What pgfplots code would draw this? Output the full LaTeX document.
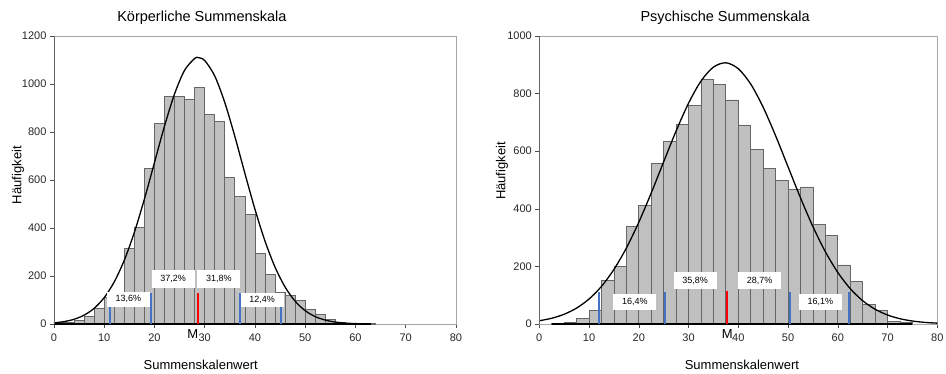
\documentclass[border=0pt]{standalone}
\usepackage{pgfplots}
\pgfplotsset{compat=1.18}
\usepackage{fontspec}
\setmainfont{Liberation Sans}
\definecolor{barfill}{HTML}{C0C0C0}
\definecolor{baredge}{HTML}{666666}
\definecolor{myblue}{HTML}{4472C4}
\definecolor{myred}{HTML}{FF0000}
\definecolor{framec}{HTML}{A6A6A6}
\tikzset{pct/.style={fill=white, draw=none, minimum width=43pt, minimum height=16.5pt, inner sep=0pt, font=\fontsize{9}{10}\selectfont}}
\pgfplotsset{
 hist/.style={
  scale only axis, height=288pt,
  xmin=0, xmax=80, ymin=0,
  xtick={0,10,...,80},
  tick align=outside, tick pos=left, major tick length=4pt,
  axis line style={framec, line width=0.8pt},
  tick style={black!70, line width=0.6pt},
  ticklabel style={font=\fontsize{11}{13}\selectfont, text=black!85},
  xticklabel style={yshift=-2.5pt},
  /pgf/number format/assume math mode=true,
  /pgf/number format/1000 sep={},
  label style={font=\fontsize{13}{15}\selectfont},
  title style={font=\fontsize{14.5}{17}\selectfont, anchor=base},
  clip=false,
 },
 bars/.style={ybar, bar width=#1, bar shift=0pt, fill=barfill, draw=baredge, line width=0.8pt},
}
\begin{document}
\begin{tikzpicture}
\useasboundingbox (0,0) rectangle (946pt,-373pt);
% ---------------- left ----------------
\begin{axis}[hist, at={(54pt,-324pt)}, anchor=south west, width=402pt,
  ymax=1200, ytick={0,200,...,1200},
  title={Körperliche Summenskala},
  title style={at={(axis description cs:0.368,1)}, yshift=8.5pt},
  xlabel={Summenskalenwert},
  xlabel style={at={(axis description cs:0.365,0)}, anchor=base, yshift=-45.5pt},
  ylabel={Häufigkeit},
  ylabel style={at={(axis description cs:-0.0896,0.517)}, anchor=center},
]
\addplot[bars=2] coordinates {
(1,5) (3,8) (5,14) (7,30) (9,64) (11,110) (13,128) (15,315) (17,403) (19,647)
(21,836) (23,950) (25,950) (27,936) (29,985) (31,874) (33,844) (35,610) (37,531) (39,458)
(41,294) (43,208) (45,130) (47,119) (49,100) (51,61) (53,39) (55,19) (57,8) (59,4)
(61,2) (63,1)};
\addplot[black, line width=1.5pt] coordinates {(0,0) (63,0)};
\addplot[myblue, line width=2pt] coordinates {(11.1,0) (11.1,70)};
\addplot[myblue, line width=2pt] coordinates {(19.4,0) (19.4,130)};
\addplot[myred, line width=2.2pt] coordinates {(28.6,0) (28.6,130)};
\addplot[myblue, line width=2pt] coordinates {(37.1,0) (37.1,130)};
\addplot[myblue, line width=2pt] coordinates {(45.2,0) (45.2,70)};
\addplot[black, line width=1.3pt, smooth] coordinates {
(0,4.8) (2,10.0) (4,19.7) (6,36.9) (8,65.5) (10,110.2) (12,175.9) (14,266.3) (16,382.5)
(18,521.1) (20,673.2) (22,825.2) (24,959.2) (26,1057.8) (28,1106.4) (28.7,1110) (30,1097.7)
(32,1033.0) (34,922.0) (36,780.7) (38,626.9) (40,477.5) (42,345.0) (44,236.4) (46,153.7)
(48,94.8) (50,55.4) (52,30.7) (54,16.2) (56,8.1) (58,3.8) (60,1.7) (62,0.7)};
\node[pct, minimum height=15pt] at (axis cs:14.8,103) {13,6\%};
\node[pct, minimum height=18pt] at (axis cs:23.7,187) {37,2\%};
\node[pct, minimum height=18pt] at (axis cs:32.8,187) {31,8\%};
\node[pct, minimum height=14pt] at (axis cs:41.4,100) {12,4\%};
\node[anchor=base, font=\fontsize{13}{15}\selectfont, yshift=-14.5pt] at (axis cs:27.6,0) {M};
\draw[black!60, line width=0.8pt] (rel axis cs:0,1) -- (rel axis cs:0,0);
\end{axis}
% ---------------- right ----------------
\begin{axis}[hist, at={(539.3pt,-324pt)}, anchor=south west, width=398pt,
  ymax=1000, ytick={0,200,...,1000},
  title={Psychische Summenskala},
  title style={at={(axis description cs:0.467,1)}, yshift=8.5pt},
  xlabel={Summenskalenwert},
  xlabel style={at={(axis description cs:0.509,0)}, anchor=base, yshift=-45.5pt},
  ylabel={Häufigkeit},
  ylabel style={at={(axis description cs:-0.0937,0.531)}, anchor=center},
]
\addplot[bars=2.5] coordinates {
(3.75,2) (6.25,5) (8.75,20) (11.25,46) (13.75,151) (16.25,200) (18.75,340) (21.25,413)
(23.75,559) (26.25,633) (28.75,694) (31.25,758) (33.75,850) (36.25,831) (38.75,778)
(41.25,691) (43.75,606) (46.25,541) (48.75,498) (51.25,468) (53.75,476) (56.25,347)
(58.75,306) (61.25,205) (63.75,147) (66.25,67) (68.75,47) (71.25,8) (73.75,4)};
\addplot[black, line width=1.5pt] coordinates {(2.5,0) (75,0)};
\addplot[myblue, line width=2pt] coordinates {(12.0,0) (12.0,112)};
\addplot[myblue, line width=2pt] coordinates {(25.3,0) (25.3,112)};
\addplot[myred, line width=2.2pt] coordinates {(37.8,0) (37.8,115)};
\addplot[myblue, line width=2pt] coordinates {(50.3,0) (50.3,112)};
\addplot[myblue, line width=2pt] coordinates {(62.3,0) (62.3,112)};
\addplot[black, line width=1.3pt, smooth] coordinates {
(0,11.3) (2.5,20.0) (5,33.9) (7.5,55.3) (10,86.8) (12.5,130.7) (15,189.5) (17.5,263.8)
(20,353.4) (22.5,455.0) (25,563.3) (27.5,670.3) (30,766.8) (32.5,843.5) (35,892.0)
(37.5,907.0) (40,886.4) (42.5,833.0) (45,752.5) (47.5,653.6) (50,545.7) (52.5,438.2)
(55,338.1) (57.5,250.9) (60,179.0) (62.5,122.7) (65,80.9) (67.5,51.3) (70,31.3)
(72.5,18.3) (75,10.3) (77.5,5.6) (80,2.9)};
\node[pct] at (axis cs:19.2,77) {16,4\%};
\node[pct, minimum height=17.5pt] at (axis cs:31.3,151) {35,8\%};
\node[pct, minimum height=17.5pt] at (axis cs:44.3,151) {28,7\%};
\node[pct] at (axis cs:56.5,77) {16,1\%};
\node[anchor=base, font=\fontsize{13}{15}\selectfont, yshift=-14.5pt] at (axis cs:37.8,0) {M};
\draw[black!60, line width=0.8pt] (rel axis cs:0,1) -- (rel axis cs:0,0);
\end{axis}
\end{tikzpicture}
\end{document}
